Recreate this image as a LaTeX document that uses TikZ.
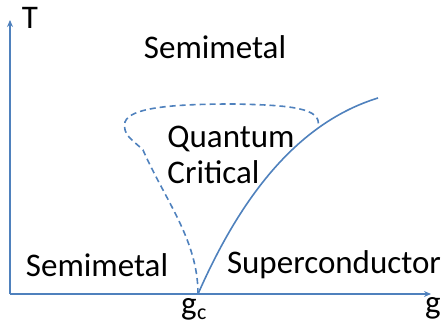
\documentclass[tikz,border=0pt]{standalone}
\usepackage{fontspec}
\setmainfont{Carlito}
\usetikzlibrary{arrows.meta}
\definecolor{ax}{RGB}{79,129,189}
\begin{document}
\begin{tikzpicture}[x=1pt,y=-1pt,
  lbl/.style={inner sep=0pt,font=\fontsize{33}{36}\selectfont},
  axis/.style={draw=ax,line width=1.6pt,-{Stealth[length=7pt,width=6pt]}},
  line/.style={draw=ax,line width=1.6pt},
  dline/.style={draw=ax,line width=1.6pt,dash pattern=on 6pt off 4pt}]
\useasboundingbox (0,0) rectangle (446,329);
\coordinate (O) at (10,294);
\coordinate (Ty) at (10,20);
\coordinate (Gx) at (431,294);
\coordinate (gc) at (198,294);
\coordinate (end) at (378,98);
\coordinate (meet) at (318,126);
\draw[axis] (O) -- (Ty);
\draw[axis] (O) -- (Gx);
\draw[line] (gc) .. controls (235,210) and (290,125) .. (end);
\draw[dline] (gc) .. controls (198,240) and (165,200) .. (143,150)
  .. controls (133,140) and (122,135) .. (125,122)
  .. controls (130,108) and (170,104) .. (233,104)
  .. controls (290,105) and (322,108) .. (meet);
\node[lbl] (T) at (30,18) {T};
\node[lbl] (sm1) at (215,47) {Semimetal};
\node[lbl,align=left] (qc) at (231,155) {Quantum\\Critical};
\node[lbl] (sm2) at (97,265) {Semimetal};
\node[lbl] (sc) at (334,265) {Superconductor};
\node[lbl,anchor=base] (gclab) at (189,314) {g};
\node[inner sep=0pt,font=\fontsize{22}{24}\selectfont,anchor=base west] (csub) at (gclab.base east) [yshift=-5pt] {c};
\node[lbl,anchor=base] (glab) at (433,313) {g};
\end{tikzpicture}
\end{document}
